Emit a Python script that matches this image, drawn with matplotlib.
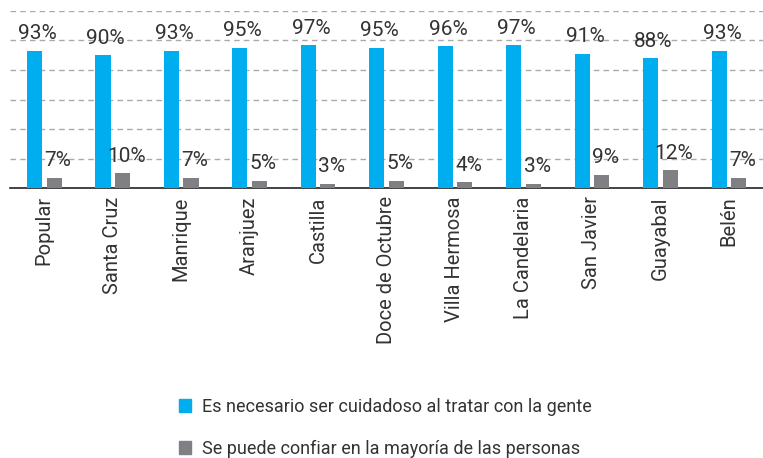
import numpy as np
import matplotlib
matplotlib.use('Agg')
from matplotlib import pyplot as plt
from matplotlib.patches import Patch

plt.rcParams['font.family'] = ['Roboto', 'DejaVu Sans']

barrios = ['Popular', 'Santa Cruz', 'Manrique', 'Aranjuez', 'Castilla', 'Doce de Octubre',
           'Villa Hermosa', 'La Candelaria', 'San Javier', 'Guayabal', 'Belén']
cuidadoso = [93, 90, 93, 95, 97, 95, 96, 97, 91, 88, 93]
confiar = [7, 10, 7, 5, 3, 5, 4, 3, 9, 12, 7]

blue = '#00adef'
grey = '#808084'
txt = '#333333'

fig = plt.figure(figsize=(7.63, 4.58), dpi=100)
ax = fig.add_axes([0.013, 0.5895, 0.987, 0.3865])

x = np.arange(len(barrios))
w = 0.22
ax.bar(x - 0.14, cuidadoso, w, color=blue, zorder=3)
ax.bar(x + 0.145, confiar, w, color=grey, zorder=3)

for i in range(len(x)):
    ax.text(x[i] - 0.1, cuidadoso[i] + 5, '%d%%' % cuidadoso[i], ha='center', va='bottom',
            fontsize=15, color=txt)
    ax.text(x[i] + 0.2, confiar[i] + 5, '%d%%' % confiar[i], ha='center', va='bottom',
            fontsize=15, color=txt)

ax.set_xlim(-0.5, len(barrios) - 0.5)
ax.set_ylim(0, 120)
ax.set_yticks([20, 40, 60, 80, 100, 120])
ax.yaxis.grid(True, linestyle=(0, (4, 3)), color='#aaaaaa', linewidth=1, zorder=0)
ax.tick_params(axis='y', left=False, labelleft=False)
ax.tick_params(axis='x', length=0, pad=6)
ax.set_xticks(x)
ax.set_xticklabels(barrios, rotation=90, fontsize=14.5, color=txt)
for s in ['top', 'right', 'left']:
    ax.spines[s].set_visible(False)
ax.spines['bottom'].set_color('#222222')
ax.spines['bottom'].set_linewidth(1.2)

handles = [Patch(color=blue, label='Es necesario ser cuidadoso al tratar con la gente'),
           Patch(color=grey, label='Se puede confiar en la mayoría de las personas')]
fig.legend(handles=handles, loc='center', bbox_to_anchor=(0.505, 0.066), frameon=False,
           fontsize=13, handlelength=0.7, handleheight=0.7, handletextpad=0.6,
           labelspacing=1.3, labelcolor=txt)

fig.savefig('out.png', dpi=100)
